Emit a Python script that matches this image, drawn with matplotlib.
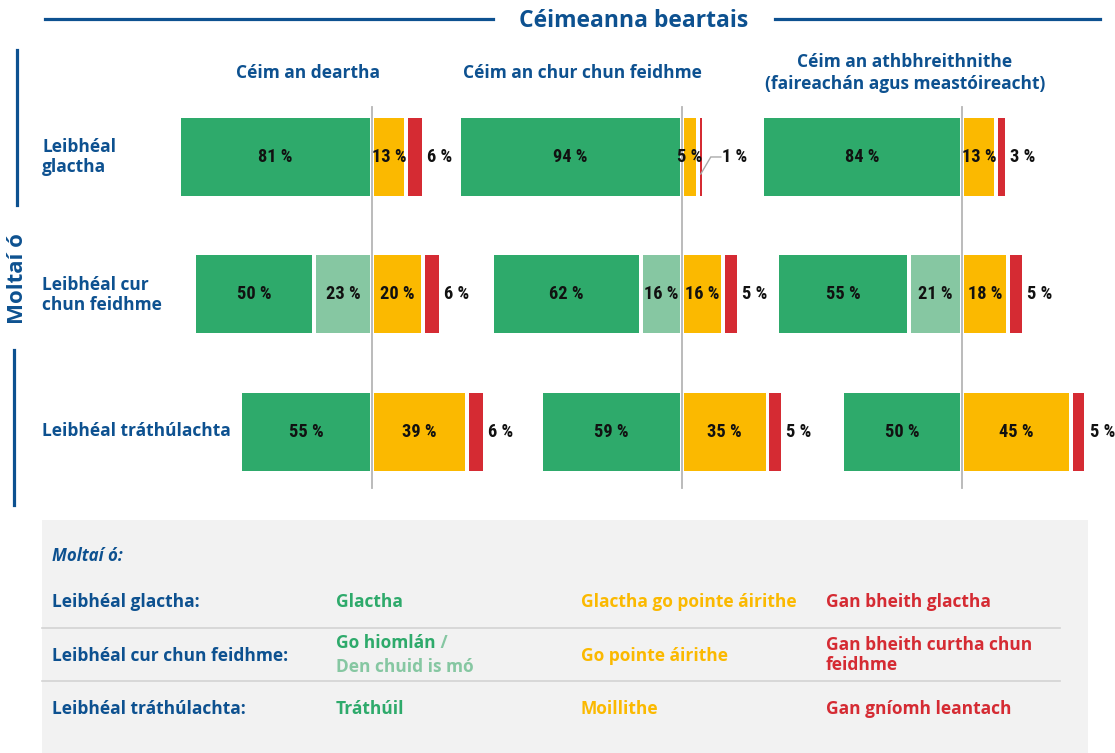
import matplotlib
matplotlib.use("Agg")
import matplotlib.pyplot as plt
from matplotlib.lines import Line2D
from matplotlib.patches import Rectangle

W, H, DPI = 1115, 753, 100

# ---------------- data ----------------
title = "Céimeanna beartais"
side_title = "Moltaí ó"
stages = ["Céim an deartha", "Céim an chur chun feidhme",
          "Céim an athbhreithnithe\n(faireachán agus meastóireacht)"]
levels = ["Leibhéal\nglactha", "Leibhéal cur\nchun feidhme", "Leibhéal tráthúlachta"]

# values [level][stage]
full = [[81, 94, 84], [50, 62, 55], [55, 59, 50]]
mostly = [[0, 0, 0], [23, 16, 21], [0, 0, 0]]
partly = [[13, 5, 13], [20, 16, 18], [39, 35, 45]]
notdone = [[6, 1, 3], [6, 5, 5], [6, 5, 5]]

legend_title = "Moltaí ó:"
legend_rows = ["Leibhéal glactha:", "Leibhéal cur chun feidhme:", "Leibhéal tráthúlachta:"]
legend_green = ["Glactha", "Go hiomlán", "Tráthúil"]
legend_light = "Den chuid is mó"
legend_yellow = ["Glactha go pointe áirithe", "Go pointe áirithe", "Moillithe"]
legend_red = ["Gan bheith glactha", "Gan bheith curtha chun\nfeidhme", "Gan gníomh leantach"]

# ---------------- style ----------------
BLUE = "#0d5190"
GREEN = "#2eaa6b"
LIGHT = "#86c7a2"
YELLOW = "#fbb900"
RED = "#d52b33"
GREY_LINE = "#b5b5b5"
HEAD = ["Open Sans", "DejaVu Sans"]
NUM = ["DejaVu Sans Condensed", "Roboto Condensed", "Liberation Sans Narrow", "Roboto"]
NUM_SIZE = 13.2
HS = 12.5

fig = plt.figure(figsize=(W / DPI, H / DPI), dpi=DPI)


def fx(px):
    return px / W


def fy(py):
    return 1 - py / H


# title and rules
fig.text(fx(634), fy(21), title, ha="center", va="center", fontsize=16.5,
         fontweight="bold", color=BLUE, family=HEAD)
for x0, x1 in [(45, 493), (775, 1100)]:
    fig.add_artist(Line2D([fx(x0), fx(x1)], [fy(19), fy(19)], color=BLUE, lw=2.3))

# side title
fig.text(fx(18), fy(279), side_title, ha="center", va="center", rotation=90,
         fontsize=16, fontweight="bold", color=BLUE, family=HEAD)
fig.add_artist(Line2D([fx(17), fx(17)], [fy(50), fy(205)], color=BLUE, lw=2.3))
fig.add_artist(Line2D([fx(14), fx(14)], [fy(350), fy(505)], color=BLUE, lw=2.3))

# column headers
for s, cx in zip(stages, [308, 582, 905]):
    fig.text(fx(cx), fy(73), s, ha="center", va="center", fontsize=HS,
             fontweight="bold", color=BLUE, family=HEAD, linespacing=1.25)

# row labels
for lab, cy in zip(levels, [157, 295, 431]):
    fig.text(fx(42), fy(cy), lab, ha="left", va="center", fontsize=HS,
             fontweight="bold", color=BLUE, family=HEAD, linespacing=1.2)

# ---------------- bars ----------------
PX_PER = 2.33
centers = [372, 682, 962]
XMIN, XMAX = -100, 60
GAP = 1.7
BH = 0.567
ROW_TOP = -0.4145
ROW_BOT = 2.495

for j, c in enumerate(centers):
    left = c + XMIN * PX_PER
    width = (XMAX - XMIN) * PX_PER
    ax = fig.add_axes([left / W, fy(500), width / W, 400 / H])
    ax.set_xlim(XMIN, XMAX)
    ax.set_ylim(ROW_BOT, ROW_TOP)
    ax.axis("off")
    ax.patch.set_alpha(0)
    ax.axvline(0, ymin=0.03, ymax=0.9825, color=GREY_LINE, lw=1.3, zorder=0)
    for i in range(3):
        g = GAP
        # positive side
        yv = partly[i][j]
        y0 = g / 2
        ax.barh(i, yv, left=y0, height=BH, color=YELLOW, zorder=2)
        ax.text(y0 + yv / 2, i, f"{yv} %", ha="center", va="center", fontsize=NUM_SIZE,
                fontweight="bold", family=NUM, color="#111111", zorder=5)
        rv = notdone[i][j]
        r0 = y0 + yv + g
        ax.barh(i, rv, left=r0, height=BH, color=RED, zorder=2)
        if rv < 2:
            rx = r0 + rv / 2
            ax.plot([rx, rx + 4.3, rx + 8.6], [i + 0.124, i, i], color="#aaaaaa",
                    lw=1.0, zorder=3, solid_joinstyle="miter")
            ax.text(rx + 9.3, i, f"{rv} %", ha="left", va="center", fontsize=NUM_SIZE,
                    fontweight="bold", family=NUM, color="#111111")
        else:
            ax.annotate(f"{rv} %", xy=(r0 + rv, i), xytext=(3.8, 0),
                        textcoords="offset points", ha="left", va="center",
                        annotation_clip=False,
                        fontsize=NUM_SIZE, fontweight="bold", family=NUM, color="#111111")
        # negative side
        mv = mostly[i][j]
        fv = full[i][j]
        if mv > 0:
            ax.barh(i, mv, left=-g / 2 - mv, height=BH, color=LIGHT, zorder=2)
            ax.text(-g / 2 - mv / 2, i, f"{mv} %", ha="center", va="center", fontsize=NUM_SIZE,
                    fontweight="bold", family=NUM, color="#111111", zorder=5)
            gl = -g / 2 - mv - g - fv
        else:
            gl = -g / 2 - fv
        ax.barh(i, fv, left=gl, height=BH, color=GREEN, zorder=2)
        ax.text(gl + fv / 2, i, f"{fv} %", ha="center", va="center", fontsize=NUM_SIZE,
                fontweight="bold", family=NUM, color="#111111", zorder=5)

# ---------------- legend box ----------------
fig.add_artist(Rectangle((fx(42), 0), fx(1088) - fx(42), fy(520), transform=fig.transFigure,
                         facecolor="#f2f2f2", edgecolor="none", zorder=-5))
fig.text(fx(52), fy(556), legend_title, ha="left", va="center", fontsize=12.2,
         fontweight="bold", style="italic", color=BLUE, family=HEAD)
for ys in [628, 681]:
    fig.add_artist(Line2D([fx(42), fx(1060)], [fy(ys), fy(ys)], color="#d3d3d3", lw=1.2))

row_y = [602, 656, 709]
for k in range(3):
    fig.text(fx(52), fy(row_y[k]), legend_rows[k], ha="left", va="center", fontsize=HS,
             fontweight="bold", color=BLUE, family=HEAD)
    if k == 1:
        t = fig.text(fx(336), fy(643), legend_green[k], ha="left", va="center", fontsize=HS,
                     fontweight="bold", color=GREEN, family=HEAD)
        fig.text(fx(336), fy(667), legend_light, ha="left", va="center", fontsize=HS,
                 fontweight="bold", color=LIGHT, family=HEAD)
        plt.annotate(" /", xy=(1, 0.5), xycoords=t, ha="left", va="center", fontsize=HS,
                     fontweight="bold", color=LIGHT, family=HEAD)
    else:
        fig.text(fx(336), fy(row_y[k]), legend_green[k], ha="left", va="center", fontsize=HS,
                 fontweight="bold", color=GREEN, family=HEAD)
    fig.text(fx(581), fy(row_y[k]), legend_yellow[k], ha="left", va="center", fontsize=HS,
             fontweight="bold", color=YELLOW, family=HEAD)
    fig.text(fx(826), fy(row_y[k] - (1 if k == 1 else 0)), legend_red[k], ha="left", va="center",
             fontsize=HS, fontweight="bold", color=RED, family=HEAD, linespacing=1.15)

fig.savefig("out.png", dpi=DPI)
